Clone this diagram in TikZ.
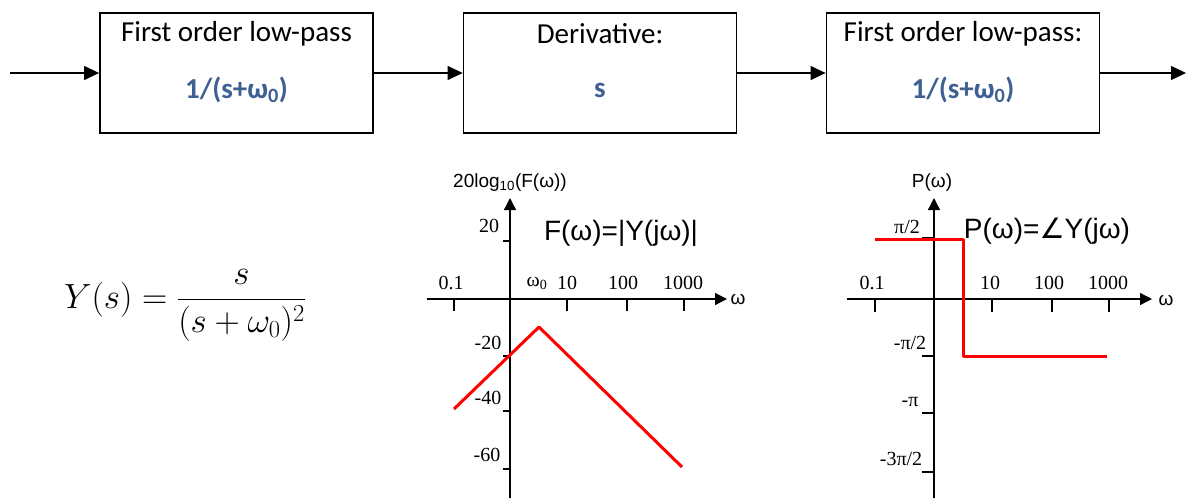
\RequirePackage{fix-cm}
\documentclass[tikz,border=0pt]{standalone}
\usepackage{fontspec}
\setmainfont{Carlito}
\newfontfamily\plotsans{Liberation Sans}
\newfontfamily\plotserif{Liberation Serif}
\newfontfamily\dejavu{DejaVu Sans}
\usetikzlibrary{arrows.meta}
\definecolor{fblue}{RGB}{62,96,146}
\begin{document}
\begin{tikzpicture}[x=1pt,y=-1pt,
  blockbox/.style={draw, line width=1.8pt, minimum width=273pt, minimum height=120pt, inner sep=0pt},
  flow/.style={-{Triangle[length=15pt,width=14pt]}, line width=1.3pt},
  boxtitle/.style={font=\fontsize{29}{34}\selectfont, inner sep=0pt},
  boxformula/.style={font=\bfseries\fontsize{29}{34}\selectfont, text=fblue, inner sep=0pt},
  axis/.style={line width=1.3pt, -{Triangle[length=12pt,width=12pt]}},
  axtick/.style={line width=1.3pt},
  curve/.style={red, line width=3pt, line join=round},
  ticklabel/.style={font=\plotserif\fontsize{20}{24}\selectfont, inner sep=0pt},
  axlabel/.style={font=\plotsans\fontsize{19}{22}\selectfont, inner sep=0pt},
  plottitle/.style={font=\plotsans\fontsize{28}{32}\selectfont, inner sep=0pt}
]
\useasboundingbox (0,0) rectangle (1189,498);

% block diagram
\node[blockbox] (b1) at (236.5,73) {};
\node[blockbox] (b2) at (600,73) {};
\node[blockbox] (b3) at (963,73) {};
\node[boxtitle] (b1t) at (236.5,34) {First order low-pass};
\node[boxtitle] (b2t) at (600,34) {Derivative:};
\node[boxtitle] (b3t) at (963,34) {First order low-pass:};
\node[boxformula] (b1f) at (236.5,90) {1/(s+ω\textsubscript{0})};
\node[boxformula] (b2f) at (600,90) {s};
\node[boxformula] (b3f) at (963,90) {1/(s+ω\textsubscript{0})};
\coordinate (in) at (10,73);
\coordinate (out) at (1186,73);
\draw[flow] (in) -- (b1);
\draw[flow] (b1) -- (b2);
\draw[flow] (b2) -- (b3);
\draw[flow] (b3) -- (out);

% equation
\node[font=\fontsize{35}{41}\selectfont, inner sep=0pt] (eq) at (185,305) {$\displaystyle Y(s)=\frac{s}{(s+\omega_0)^2}$};

% magnitude plot
\draw[axis] (510,498) -- (510,198);
\draw[axis] (427,299) -- (727,299);
\foreach \x in {454,567,627,684} \draw[axtick] (\x,299) -- (\x,311);
\foreach \y in {241,356,411,469} \draw[axtick] (503,\y) -- (510,\y);
\node[ticklabel] (m01) at (451,283) {0.1};
\node[ticklabel] (mw0) at (537,283) {ω\textsubscript{0}};
\node[ticklabel] (m10) at (567,283) {10};
\node[ticklabel] (m100) at (623,283) {100};
\node[ticklabel] (m1000) at (683,283) {1000};
\node[ticklabel] (mp20) at (489,226) {20};
\node[ticklabel] (mm20) at (488,343) {-20};
\node[ticklabel] (mm40) at (488,398) {-40};
\node[ticklabel] (mm60) at (487,455) {-60};
\node[axlabel] (momega) at (738,299) {ω};
\node[axlabel] (mtitle) at (510,183) {20log\textsubscript{10}(F(ω))};
\node[plottitle] (mname) at (621,233) {F(ω)=|Y(jω)|};
\draw[curve] (454,409) -- (539,327) -- (682,467);

% phase plot
\draw[axis] (934,498) -- (934,198);
\draw[axis] (847,299) -- (1152,299);
\foreach \x in {875,992,1052,1109} \draw[axtick] (\x,299) -- (\x,312);
\foreach \y in {238,356,413,472} \draw[axtick] (922,\y) -- (934,\y);
\node[ticklabel] (p01) at (872,283) {0.1};
\node[ticklabel] (p10) at (990,283) {10};
\node[ticklabel] (p100) at (1049,283) {100};
\node[ticklabel] (p1000) at (1108,283) {1000};
\node[ticklabel] (ppi2) at (907,227) {π/2};
\node[ticklabel] (pmpi2) at (910,343) {-π/2};
\node[ticklabel] (pmpi) at (910,402) {-π};
\node[ticklabel] (pm3pi2) at (901,459) {-3π/2};
\node[axlabel] (pomega) at (1166,300) {ω};
\node[axlabel] (ptitle) at (932,183) {P(ω)};
\node[plottitle] (pname) at (1047,231) {P(ω)={\dejavu ∠}Y(jω)};
\draw[curve] (875,239) -- (963,239) -- (963,356) -- (1107,356);
\end{tikzpicture}
\end{document}
